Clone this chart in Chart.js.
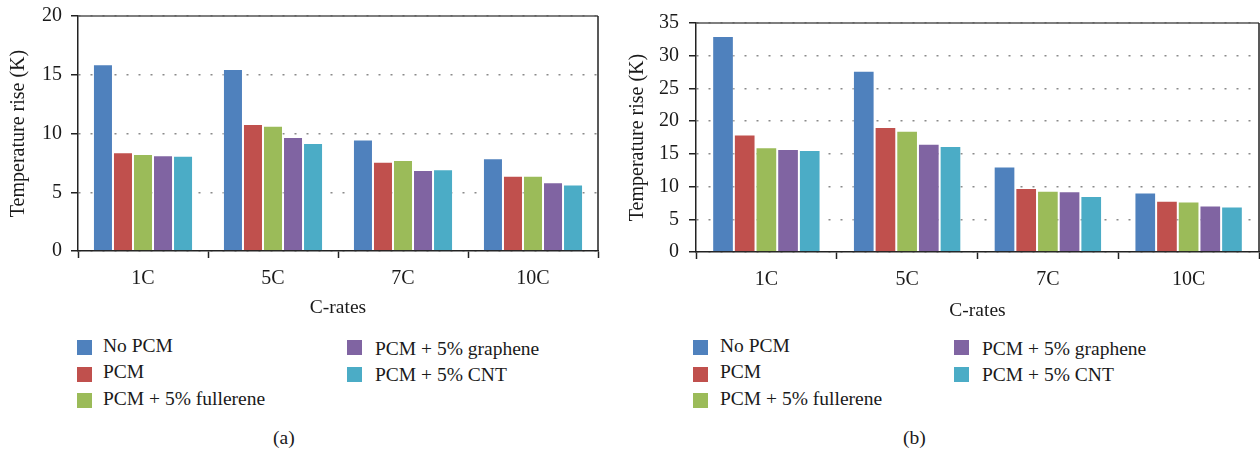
<!DOCTYPE html>
<html>
<head>
<meta charset="utf-8">
<script src="https://cdn.jsdelivr.net/npm/chart.js@4/dist/chart.umd.min.js"></script>
<style>
  html, body { margin: 0; padding: 0; background: #ffffff; }
  body { width: 1260px; height: 451px; position: relative; overflow: hidden;
         font-family: 'Liberation Serif', 'Times New Roman', serif; color: #1a1a1a; }
  canvas { position: absolute; }
  .sw { position: absolute; width: 15px; height: 15px; }
  .lt { position: absolute; font-size: 19.5px; line-height: 22px; white-space: nowrap; }
  .cap { position: absolute; font-size: 19.5px; line-height: 22px; }
</style>
</head>
<body>
<canvas id="ca" width="620" height="320" style="left:0px;top:0px;width:620px;height:320px;"></canvas>
<canvas id="cb" width="640" height="325" style="left:620px;top:0px;width:640px;height:325px;"></canvas>
<div id="legA"></div>
<div id="legB"></div>
<div class="cap" style="left:273px;top:427px;">(a)</div>
<div class="cap" style="left:903px;top:427px;">(b)</div>
<script>
// ---- data ----
const categories = ['1C', '5C', '7C', '10C'];
const seriesNames = ['No PCM', 'PCM', 'PCM + 5% fullerene', 'PCM + 5% graphene', 'PCM + 5% CNT'];
const seriesColors = ['#4F81BD', '#C0504D', '#9BBB59', '#8064A2', '#4BACC6'];

// Panel (a)
const aNoPCM     = [15.9, 15.5, 9.5, 7.9];
const aPCM       = [8.4, 10.8, 7.6, 6.4];
const aFullerene = [8.25, 10.65, 7.75, 6.4];
const aGraphene  = [8.15, 9.7, 6.9, 5.85];
const aCNT       = [8.1, 9.2, 6.95, 5.65];
const aTicks     = [0, 5, 10, 15, 20];

// Panel (b)
const bNoPCM     = [33.0, 27.7, 13.05, 9.1];
const bPCM       = [17.95, 19.1, 9.8, 7.85];
const bFullerene = [16.0, 18.55, 9.35, 7.7];
const bGraphene  = [15.75, 16.55, 9.3, 7.1];
const bCNT       = [15.6, 16.2, 8.55, 6.95];
const bTicks     = [0, 5, 10, 15, 20, 25, 30, 35];

const yTitle = 'Temperature rise (K)';
const xTitle = 'C-rates';

Chart.defaults.font.family = "'Liberation Serif', 'Times New Roman', serif";
Chart.defaults.color = '#1a1a1a';
Chart.defaults.animation = false;

const framePlugin = {
  id: 'frame',
  afterDraw(chart) {
    const {ctx, chartArea: a} = chart;
    ctx.save();
    ctx.lineWidth = 1.5;
    ctx.strokeStyle = '#555555';
    ctx.beginPath();
    ctx.moveTo(a.left, a.top);
    ctx.lineTo(a.right, a.top);
    ctx.stroke();
    ctx.strokeStyle = '#222222';
    ctx.beginPath();
    ctx.moveTo(a.right, a.top);
    ctx.lineTo(a.right, a.bottom);
    ctx.stroke();
    ctx.restore();
  }
};

function makeChart(id, seriesData, ticks, cfg) {
  const datasets = seriesData.map((d, i) => ({
    label: seriesNames[i],
    data: d,
    backgroundColor: seriesColors[i],
    borderColor: 'rgba(255,255,255,0.35)',
    borderWidth: 1,
    categoryPercentage: 0.77,
    barPercentage: 1.0
  }));
  return new Chart(document.getElementById(id), {
    type: 'bar',
    data: { labels: categories, datasets },
    options: {
      responsive: false,
      animation: false,
      layout: { padding: { left: 0, top: cfg.top, right: cfg.right, bottom: 0 } },
      plugins: { legend: { display: false }, tooltip: { enabled: false } },
      scales: {
        x: {
          offset: true,
          afterFit(s) { s.height = cfg.xHeight; s.paddingLeft = 0; s.paddingRight = 0; },
          grid: { display: true, offset: true, drawOnChartArea: false, drawTicks: true,
                  tickLength: 7, color: '#222222', tickColor: '#222222', tickWidth: 1.5 },
          border: { display: true, color: '#222222', width: 1.5 },
          ticks: { font: { size: 20 }, padding: 9, color: '#1a1a1a', maxRotation: 0 },
          title: { display: true, text: xTitle, font: { size: 19.5 },
                   padding: { top: 0, bottom: cfg.xTitlePad }, color: '#1a1a1a' }
        },
        y: {
          min: ticks[0],
          max: ticks[ticks.length - 1],
          afterFit(s) { s.width = cfg.yWidth; s.paddingTop = 0; s.paddingBottom = 0; },
          afterBuildTicks(s) { s.ticks = ticks.map(v => ({ value: v })); },
          grid: { display: true, drawOnChartArea: true, drawTicks: true, tickLength: 7,
                  color: '#8a8a8a', lineWidth: 1.5, tickColor: '#222222', tickWidth: 1.5 },
          border: { display: true, color: '#222222', width: 1.5, dash: [2, 10], dashOffset: 0 },
          ticks: { font: { size: 20 }, padding: cfg.yTickPad, color: '#1a1a1a' },
          title: { display: true, text: yTitle, font: { size: 20 },
                   padding: { top: cfg.yTitlePad, bottom: 0 }, color: '#1a1a1a' }
        }
      }
    },
    plugins: [framePlugin]
  });
}

makeChart('ca', [aNoPCM, aPCM, aFullerene, aGraphene, aCNT], aTicks,
  { top: 16, right: 22, xHeight: 69, yWidth: 78, yTickPad: 9, yTitlePad: 7, xTitlePad: 0 });
makeChart('cb', [bNoPCM, bPCM, bFullerene, bGraphene, bCNT], bTicks,
  { top: 23, right: 1, xHeight: 73, yWidth: 76, yTickPad: 10, yTitlePad: 6, xTitlePad: 2 });

// ---- legends (HTML text) ----
function buildLegend(containerId, col1Sw, col1Tx, col2Sw, col2Tx) {
  const c = document.getElementById(containerId);
  const rowTops = [340, 366.5, 393];
  seriesNames.forEach((name, i) => {
    const col = i < 3 ? 0 : 1;
    const row = i < 3 ? i : i - 3;
    const sw = document.createElement('div');
    sw.className = 'sw';
    sw.style.background = seriesColors[i];
    sw.style.left = (col ? col2Sw : col1Sw) + 'px';
    sw.style.top = rowTops[row] + 'px';
    c.appendChild(sw);
    const t = document.createElement('div');
    t.className = 'lt';
    t.textContent = name;
    t.style.left = (col ? col2Tx : col1Tx) + 'px';
    t.style.top = (rowTops[row] - 5.5 + (col ? 3 : 0)) + 'px';
    c.appendChild(t);
  });
}
buildLegend('legA', 77, 103, 347, 375);
buildLegend('legB', 693, 720, 954, 982);
</script>
</body>
</html>
